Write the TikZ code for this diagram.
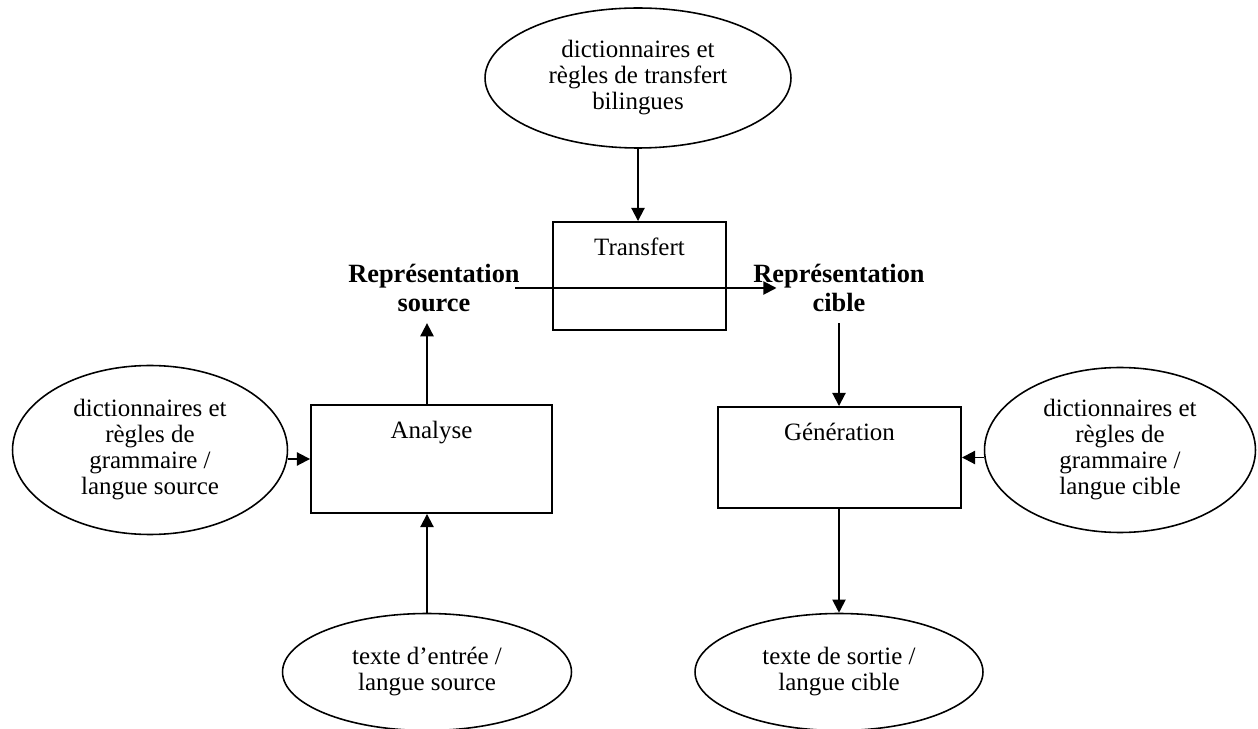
\documentclass[tikz,border=0pt]{standalone}
\usepackage{fontspec}
\setmainfont{Liberation Serif}
\usetikzlibrary{shapes.geometric,arrows.meta}

\tikzset{
	bulle/.style={draw=black, line width=0.9pt, ellipse, inner sep=0pt, align=center},
	boite/.style={draw=black, line width=1.1pt, rectangle, inner sep=0pt},
	titre/.style={inner xsep=0pt, inner ysep=6pt, align=center, font=\fontsize{15}{17}\selectfont\bfseries},
	fleche/.style={-{Triangle[length=7.5pt,width=7.5pt]}, line width=1.1pt},
	etiquette/.style={anchor=north, inner sep=0pt, yshift=-0.33cm}
}

\begin{document}
\begin{tikzpicture}[x=0.02cm, y=-0.02cm, font=\fontsize{14.2}{14.8}\selectfont]
	\useasboundingbox (0,0) rectangle (1258,729);

	% ressources
	\node[bulle, minimum width=6.12cm, minimum height=2.8cm] (dicoTransfert) at (638,78) {dictionnaires et\\règles de transfert\\bilingues};
	\node[bulle, minimum width=5.5cm, minimum height=3.38cm] (dicoSource) at (150,450) {dictionnaires et\\règles de\\grammaire /\\langue source};
	\node[bulle, minimum width=5.42cm, minimum height=3.3cm] (dicoCible) at (1120,450) {dictionnaires et\\règles de\\grammaire /\\langue cible};
	\node[bulle, minimum width=5.78cm, minimum height=2.34cm] (texteEntree) at (427,672) {texte d’entrée /\\langue source};
	\node[bulle, minimum width=5.76cm, minimum height=2.34cm] (texteSortie) at (839,672) {texte de sortie /\\langue cible};

	% etapes
	\node[boite, minimum width=3.46cm, minimum height=2.16cm, label={[etiquette]north:Transfert}] (transfert) at (639.5,276) {};
	\node[boite, minimum width=4.82cm, minimum height=2.16cm, label={[etiquette]north:Analyse}] (analyse) at (431.5,459) {};
	\node[boite, minimum width=4.86cm, minimum height=2.02cm, label={[etiquette]north:Génération}] (generation) at (839.5,457.5) {};

	\node[titre] (repSource) at (434,288) {Représentation\\source};
	\node[titre] (repCible) at (839,288) {Représentation\\cible};

	\draw[fleche] (dicoTransfert.south) -- (dicoTransfert.south |- transfert.north);
	\draw[fleche] ([xshift=-0.09cm]repSource.east) -- ([xshift=0.47cm]repCible.west);
	\draw[fleche] (texteEntree.north) -- (texteEntree.north |- analyse.south);
	\draw[fleche] (analyse.north -| texteEntree.north) -- (repSource.south -| texteEntree.north);
	\draw[fleche] (dicoSource.east |- analyse.west) -- (analyse.west);
	\draw[fleche] (repCible.south) -- (repCible.south |- generation.north);
	\draw[fleche] (dicoCible.west |- generation.east) -- (generation.east);
	\draw[fleche] (generation.south -| texteSortie.north) -- (texteSortie.north);
\end{tikzpicture}
\end{document}
